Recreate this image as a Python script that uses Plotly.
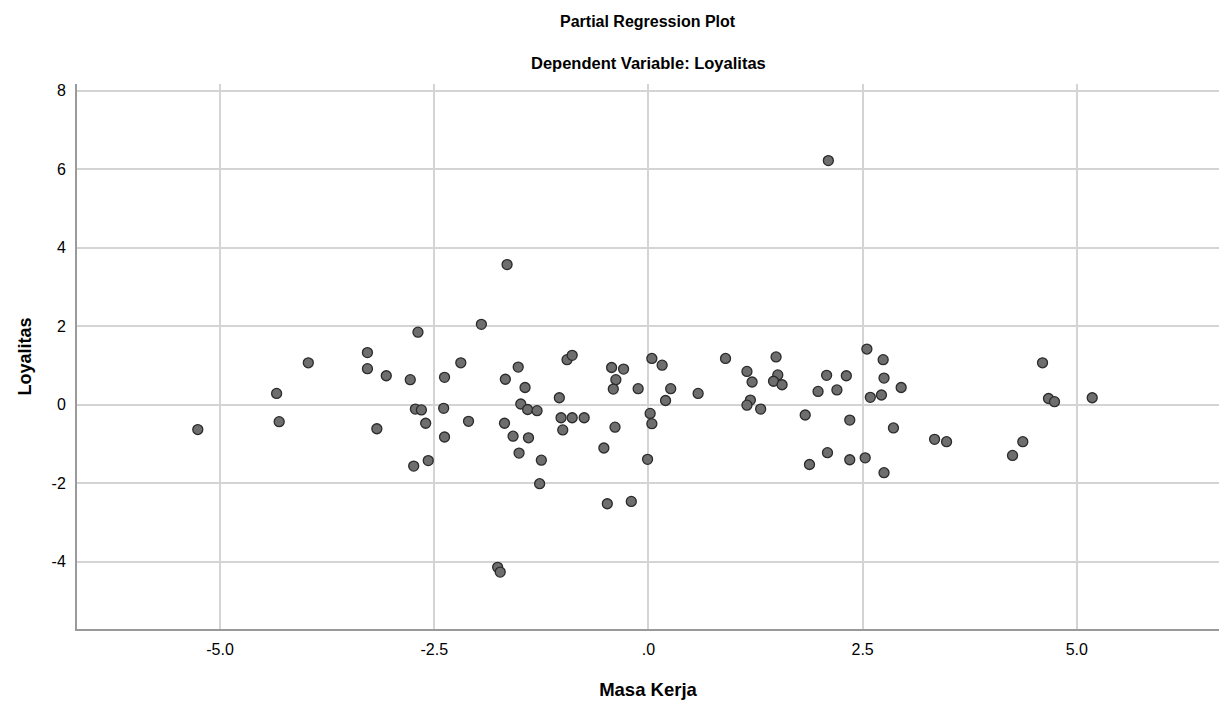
import plotly.graph_objects as go

masa_kerja = [
    -5.26, -4.34, -4.31, -3.97, -3.28, -3.28, -3.06, -3.17, -2.69, -2.78,
    -2.72, -2.65, -2.60, -2.74, -2.57, -2.38, -2.39, -2.38, -2.19, -2.10,
    -1.95, -1.67, -1.52, -1.44, -1.49, -1.41, -1.30, -1.68, -1.58, -1.40,
    -1.51, -1.25, -1.27, -1.04, -1.02, -0.89, -0.75, -1.00, -0.95, -0.89,
    -0.43, -0.29, -0.38, -0.41, -0.12, -0.39, -0.52, -0.48, -0.20, 0.04,
    0.02, 0.04, -0.01, -1.65, -1.76, -1.73, 0.16, 0.26, 0.20, 0.58,
    0.90, 1.15, 1.21, 1.19, 1.15, 1.31, 1.49, 1.51, 1.46, 1.56,
    1.83, 1.88, 1.98, 2.08, 2.09, 2.20, 2.31, 2.35, 2.35, 2.53,
    2.55, 2.74, 2.75, 2.59, 2.72, 2.86, 2.75, 2.95, 3.34, 3.48,
    4.25, 4.37, 4.60, 4.67, 4.74, 5.18, 2.10,
]
loyalitas = [
    -0.63, 0.29, -0.43, 1.07, 1.33, 0.92, 0.74, -0.61, 1.85, 0.64,
    -0.11, -0.13, -0.47, -1.56, -1.42, 0.70, -0.09, -0.82, 1.07, -0.42,
    2.05, 0.65, 0.96, 0.44, 0.02, -0.12, -0.15, -0.47, -0.80, -0.84,
    -1.23, -1.41, -2.01, 0.18, -0.33, -0.33, -0.33, -0.64, 1.15, 1.26,
    0.95, 0.91, 0.64, 0.40, 0.41, -0.57, -1.10, -2.52, -2.46, 1.18,
    -0.22, -0.48, -1.39, 3.57, -4.14, -4.26, 1.01, 0.41, 0.11, 0.29,
    1.18, 0.85, 0.58, 0.12, -0.01, -0.11, 1.22, 0.76, 0.60, 0.51,
    -0.26, -1.52, 0.34, 0.75, -1.22, 0.38, 0.74, -0.39, -1.40, -1.35,
    1.42, 1.15, 0.68, 0.19, 0.25, -0.59, -1.73, 0.44, -0.88, -0.94,
    -1.29, -0.94, 1.07, 0.16, 0.08, 0.18, 6.22,
]

x_tickvals = [-5.0, -2.5, 0.0, 2.5, 5.0]
x_ticktext = ["-5.0", "-2.5", ".0", "2.5", "5.0"]
y_tickvals = [-4, -2, 0, 2, 4, 6, 8]
y_ticktext = ["-4", "-2", "0", "2", "4", "6", "8"]

FONT = "Liberation Sans, Arial, sans-serif"
M_L, M_R, M_T, M_B = 77, 5, 84, 80
plot_h = 709 - M_T - M_B

fig = go.Figure()
fig.add_trace(go.Scatter(
    x=masa_kerja, y=loyalitas, mode="markers",
    marker=dict(size=10, color="#6e6e6e", line=dict(color="#2b2b2b", width=1.3)),
    showlegend=False, hoverinfo="x+y",
))

fig.update_layout(
    width=1224, height=709,
    margin=dict(l=M_L, r=M_R, t=M_T, b=M_B),
    paper_bgcolor="white", plot_bgcolor="white",
    font=dict(family=FONT, color="#000000", size=16),
    annotations=[
        dict(text="<b>Partial Regression Plot</b>", x=0.5, xref="paper", yref="paper",
             y=1 + (M_T - 22) / plot_h, yanchor="middle",
             showarrow=False, font=dict(size=16, family=FONT)),
        dict(text="<b>Dependent Variable: Loyalitas</b>", x=0.5, xref="paper", yref="paper",
             y=1 + (M_T - 63) / plot_h, yanchor="middle",
             showarrow=False, font=dict(size=16.5, family=FONT)),
    ],
)

fig.update_xaxes(
    range=[-6.67, 6.66], tickvals=x_tickvals, ticktext=x_ticktext, automargin=False,
    showgrid=True, gridcolor="#d4d4d4", gridwidth=1.5, zeroline=False,
    showline=True, linecolor="#9a9a9a", linewidth=2,
    ticks="outside", ticklen=5, tickcolor="rgba(0,0,0,0)",
    tickfont=dict(size=16, family=FONT),
    title=dict(text="<b>Masa Kerja</b>", font=dict(size=18.5, family=FONT), standoff=26),
)
fig.update_yaxes(
    range=[-5.71, 8.17], tickvals=y_tickvals, ticktext=y_ticktext, automargin=False,
    showgrid=True, gridcolor="#d4d4d4", gridwidth=1.5, zeroline=False,
    showline=True, linecolor="#9a9a9a", linewidth=2,
    ticks="outside", ticklen=6, tickcolor="rgba(0,0,0,0)",
    tickfont=dict(size=16, family=FONT),
    title=dict(text="<b>Loyalitas</b>", font=dict(size=18, family=FONT), standoff=15),
)

fig.write_html(
    "out.html",
    config={"displayModeBar": False},
    post_script="document.body.style.margin='0';document.body.style.overflow='hidden';",
)
